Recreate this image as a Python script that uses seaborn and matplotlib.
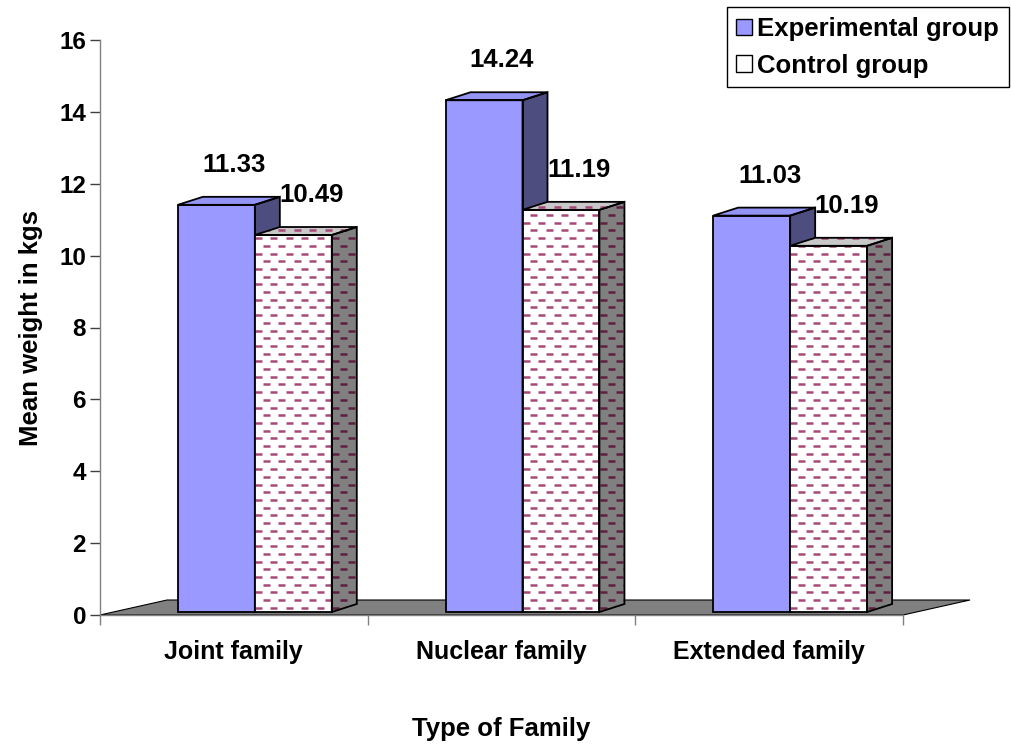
import numpy as np
import pandas as pd
import matplotlib
matplotlib.use("Agg")
import matplotlib.pyplot as plt
import seaborn as sns
from matplotlib.patches import Polygon, Patch
from matplotlib.collections import LineCollection

# ---- data -------------------------------------------------------------
family_types = ["Joint family", "Nuclear family", "Extended family"]
groups = ["Experimental group", "Control group"]
experimental_means = [11.33, 14.24, 11.03]
control_means = [10.49, 11.19, 10.19]
y_ticks = [0, 2, 4, 6, 8, 10, 12, 14, 16]

df = pd.DataFrame({
    "family": family_types * 2,
    "group": [groups[0]] * len(family_types) + [groups[1]] * len(family_types),
    "mean": experimental_means + control_means,
})

# ---- style ------------------------------------------------------------
sns.set_theme(style="white")
plt.rcParams["font.family"] = ["Liberation Sans", "DejaVu Sans"]
plt.rcParams["font.weight"] = "bold"
plt.rcParams["axes.labelweight"] = "bold"
plt.rcParams["text.color"] = "black"
plt.rcParams["axes.labelcolor"] = "black"

W, H = 1011, 748
fig = plt.figure(figsize=(W / 100, H / 100), dpi=100)
AX_L, AX_R, AX_T, AX_B = 100, 903, 40, 615
ax = fig.add_axes([AX_L / W, 1 - AX_B / H, (AX_R - AX_L) / W, (AX_B - AX_T) / H])

front_colors = {"Experimental group": "#9999FF", "Control group": "#FFFFFF"}
side_colors = {"Experimental group": "#4D4D80", "Control group": "#808080"}
top_colors = {"Experimental group": "#9494F5", "Control group": "#C8C8C8"}
dash_colors = {"front": "#A84877", "side": "#5E1F3E", "top": "#A84877"}

sns.barplot(data=df, x="family", y="mean", hue="group", order=family_types,
            hue_order=groups, palette=front_colors, width=0.575, saturation=1,
            legend=False, ax=ax)

ax.set_xlim(-0.5, len(family_types) - 0.5)
ax.set_ylim(y_ticks[0], y_ticks[-1])

# pixel -> data unit helpers for the pseudo-3D extrusion
px_x = (AX_R - AX_L) / (ax.get_xlim()[1] - ax.get_xlim()[0])
px_y = (AX_B - AX_T) / (ax.get_ylim()[1] - ax.get_ylim()[0])
def dx(p):
    return p / px_x
def dy(p):
    return p / px_y

SHIFT_X, LIFT = dx(21), dy(3)
DEPTH_X, DEPTH_Y = dx(25), dy(8)
ROW, PERIOD, DASH = dy(7.7), dx(15.5), dx(7)
EDGE_LW = 1.3

# floor of the 3D chart
x_lo, x_hi = ax.get_xlim()
floor = Polygon([(x_lo, 0), (x_lo + dx(67), dy(15)), (x_hi + dx(67), dy(15)), (x_hi, 0)],
                closed=True, facecolor="#808080", edgecolor="black", lw=0.8,
                clip_on=False, zorder=1)
ax.add_patch(floor)


def dash_segments(xmin, xmax, ymin, ymax):
    segs = []
    for i, y in enumerate(np.arange(ymin + ROW * 0.55, ymax, ROW)):
        start = xmin - PERIOD + (PERIOD / 2 if i % 2 else 0)
        for xs in np.arange(start, xmax + PERIOD, PERIOD):
            segs.append([(xs, y), (xs + DASH, y)])
    return segs


def add_dashes(face, color, bounds, z):
    lc = LineCollection(dash_segments(*bounds), colors=color, linewidths=1.8,
                        capstyle="butt", zorder=z)
    ax.add_collection(lc)
    lc.set_clip_path(face)


for gi, (container, group) in enumerate(zip(ax.containers, groups)):
    z = 3 + 2 * gi
    for bar in container:
        x0 = bar.get_x() + SHIFT_X
        w = bar.get_width()
        h = bar.get_height()
        bar.set_x(x0)
        bar.set_y(LIFT)
        bar.set_edgecolor("none")
        bar.set_zorder(z)
        y0, y1 = LIFT, LIFT + h

        side_pts = [(x0 + w, y0), (x0 + w + DEPTH_X, y0 + DEPTH_Y),
                    (x0 + w + DEPTH_X, y1 + DEPTH_Y), (x0 + w, y1)]
        top_pts = [(x0, y1), (x0 + DEPTH_X, y1 + DEPTH_Y),
                   (x0 + w + DEPTH_X, y1 + DEPTH_Y), (x0 + w, y1)]
        front_pts = [(x0, y0), (x0, y1), (x0 + w, y1), (x0 + w, y0)]

        side = Polygon(side_pts, closed=True, facecolor=side_colors[group],
                       edgecolor="none", zorder=z)
        top = Polygon(top_pts, closed=True, facecolor=top_colors[group],
                      edgecolor="none", zorder=z)
        ax.add_patch(side)
        ax.add_patch(top)

        if group == "Control group":
            bounds = (x0, x0 + w + DEPTH_X, y0, y1 + DEPTH_Y)
            add_dashes(bar, dash_colors["front"], bounds, z + 0.3)
            add_dashes(side, dash_colors["side"], bounds, z + 0.3)
            add_dashes(top, dash_colors["top"], bounds, z + 0.3)

        for pts in (front_pts, side_pts, top_pts):
            ax.add_patch(Polygon(pts, closed=True, fill=False, edgecolor="black",
                                 lw=EDGE_LW, joinstyle="miter", zorder=z + 0.6))

        ax.text(x0 + w / 2 + dx(18), y1 + dy(40), f"{h:.2f}", ha="center",
                va="center", fontsize=18.5, fontweight="bold", zorder=10)

# ---- axes -------------------------------------------------------------
for s in ("top", "right"):
    ax.spines[s].set_visible(False)
for s in ("left", "bottom"):
    ax.spines[s].set_color("#808080")
    ax.spines[s].set_linewidth(1.0)

ax.set_yticks(y_ticks)
ax.set_yticklabels([str(t) for t in y_ticks])
ax.tick_params(axis="y", which="major", left=True, direction="out", length=7,
               width=1, color="#404040", labelcolor="black", labelsize=17.5, pad=3)

ax.set_xticks(range(len(family_types)))
ax.set_xticklabels(family_types)
ax.set_xticks(np.arange(len(family_types) + 1) - 0.5, minor=True)
ax.tick_params(axis="x", which="major", bottom=False, length=0, labelsize=18,
               labelcolor="black", pad=18)
ax.tick_params(axis="x", which="minor", bottom=True, direction="out", length=7,
               width=1, color="#808080")

ax.set_ylabel("Mean weight in kgs", fontsize=18.5, fontweight="bold", labelpad=12)
ax.set_xlabel("Type of Family", fontsize=18.5, fontweight="bold", labelpad=38)

handles = [Patch(facecolor=front_colors[g], edgecolor="black", lw=1.0) for g in groups]
fig.legend(handles, groups, loc="upper right", bbox_to_anchor=(1009 / W, 1 - 7 / H),
           frameon=True, fancybox=False, edgecolor="black", framealpha=1,
           prop={"size": 18.5, "weight": "bold"}, handlelength=0.6, handleheight=0.6,
           handletextpad=0.22, labelspacing=0.5, borderpad=0.38, borderaxespad=0)

fig.savefig("out.png", dpi=100)
